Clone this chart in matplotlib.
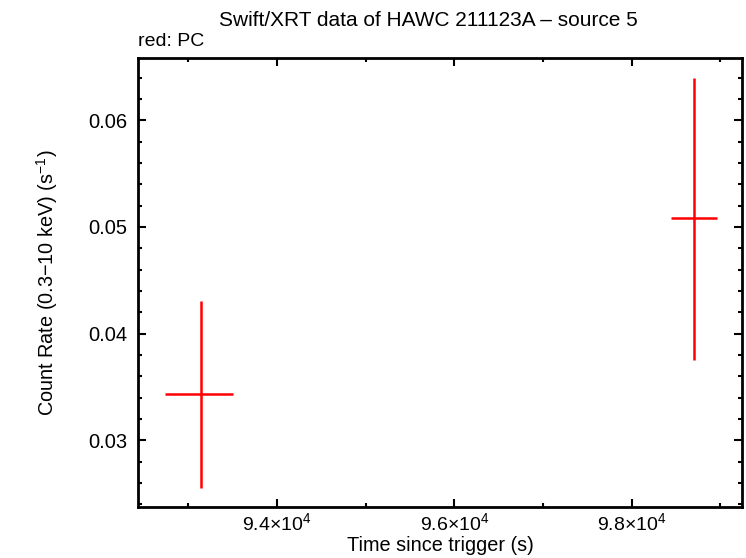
import matplotlib
matplotlib.use("Agg")
import matplotlib.pyplot as plt
from matplotlib.ticker import MultipleLocator, FixedLocator, FixedFormatter

plt.rcParams['font.family'] = ['Liberation Sans', 'DejaVu Sans']
plt.rcParams['mathtext.fontset'] = 'custom'
plt.rcParams['mathtext.rm'] = 'Liberation Sans'
plt.rcParams['mathtext.it'] = 'Liberation Sans:italic'
plt.rcParams['mathtext.bf'] = 'Liberation Sans:bold'

# Data (PC mode)
time = [93143, 98706]
time_lo = [406, 263]
time_hi = [364, 256]
rate = [0.03431, 0.05081]
rate_lo = [0.00881, 0.01328]
rate_hi = [0.00878, 0.01319]

xticks = [94000, 96000, 98000]
xticklabels = [r'9.4$\times$10$^{4}$', r'9.6$\times$10$^{4}$', r'9.8$\times$10$^{4}$']
yticks = [0.03, 0.04, 0.05, 0.06]
yticklabels = ['0.03', '0.04', '0.05', '0.06']

fig = plt.figure(figsize=(7.46, 5.58), dpi=100)
ax = fig.add_axes([138/746, 1-506.7/558, (742-138)/746, (506.7-58)/558])

ax.errorbar(time, rate, xerr=[time_lo, time_hi], yerr=[rate_lo, rate_hi],
            fmt='none', ecolor='#ff0000', elinewidth=1.8, capsize=0)

ax.set_xlim(92432, 99244)
ax.set_ylim(0.02378, 0.06584)

ax.xaxis.set_major_locator(FixedLocator(xticks))
ax.xaxis.set_major_formatter(FixedFormatter(xticklabels))
ax.xaxis.set_minor_locator(MultipleLocator(1000))
ax.yaxis.set_major_locator(FixedLocator(yticks))
ax.yaxis.set_major_formatter(FixedFormatter(yticklabels))
ax.yaxis.set_minor_locator(MultipleLocator(0.002))

ax.tick_params(which='both', direction='in', top=True, right=True, width=1.5, labelsize=14.5, colors='black')
ax.tick_params(which='major', length=6)
ax.tick_params(which='minor', length=3)
ax.tick_params(axis='x', which='major', pad=4, labelsize=14)
ax.tick_params(axis='y', which='major', pad=8)
for s in ax.spines.values():
    s.set_linewidth(2)

ax.set_xlabel('Time since trigger (s)', fontsize=14.3, labelpad=1)
ax.set_ylabel(r'Count Rate (0.3$-$10 keV) (s$^{-1}$)', fontsize=14.3)
ax.yaxis.set_label_coords((60-138)/604, 0.5)

fig.text(428/746, 1-20/558, 'Swift/XRT data of HAWC 211123A \u2013 source 5', ha='center', va='center', fontsize=15)
fig.text(138/746, 1-42/558, 'red: PC', ha='left', va='center', fontsize=14)

fig.savefig('out.png', dpi=100)
